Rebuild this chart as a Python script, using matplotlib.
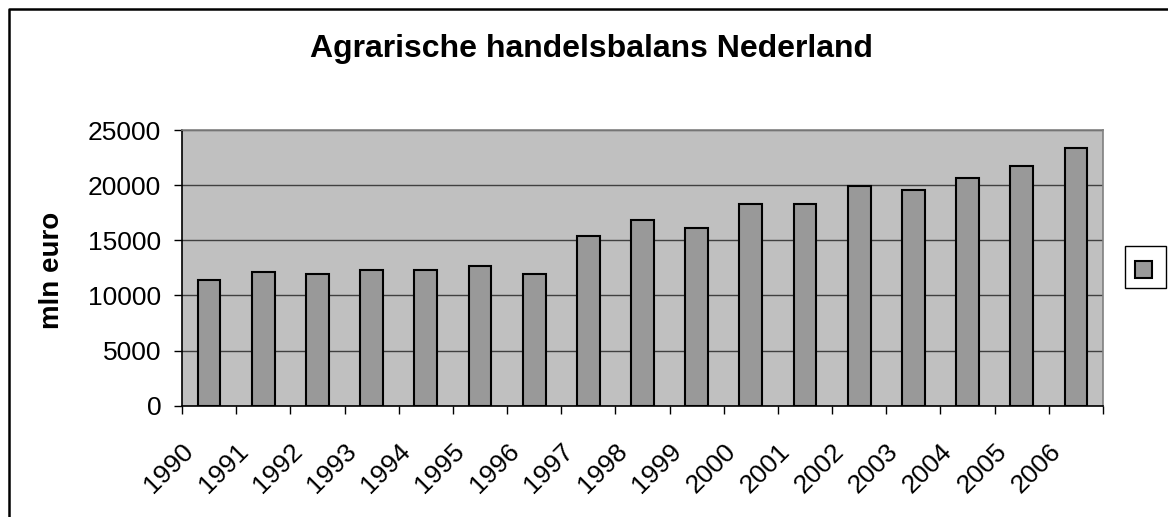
import numpy as np
import matplotlib
matplotlib.use('Agg')
import matplotlib.pyplot as plt
import matplotlib.transforms as mtransforms
from matplotlib.patches import Rectangle
from matplotlib.lines import Line2D

years = ['1990', '1991', '1992', '1993', '1994', '1995', '1996', '1997', '1998',
         '1999', '2000', '2001', '2002', '2003', '2004', '2005', '2006']
values = [11400, 12150, 11950, 12300, 12300, 12700, 11950, 15400, 16850,
          16150, 18300, 18300, 19950, 19600, 20650, 21750, 23400]
yticks = [0, 5000, 10000, 15000, 20000, 25000]

title = 'Agrarische handelsbalans Nederland'
ylabel = 'mln euro'

plt.rcParams['font.family'] = ['Liberation Sans', 'DejaVu Sans']

W, H = 1168, 517
fig = plt.figure(figsize=(W / 100, H / 100), dpi=100)

def fx(px):
    return px / W

def fy(py):
    return 1 - py / H

left, right, top, bottom = 182, 1103, 130, 405.7
ax = fig.add_axes([fx(left), fy(bottom), fx(right - left), fy(top) - fy(bottom)])
ax.set_facecolor('#c0c0c0')

x = np.arange(len(years))
ax.bar(x, values, width=0.42, color='#999999', edgecolor='black', linewidth=1.5, zorder=3)

ax.set_xlim(-0.5, len(years) - 0.5)
ax.set_ylim(0, 25000)
ax.set_yticks(yticks)
ax.set_yticklabels([str(v) for v in yticks], fontsize=19)
ax.yaxis.grid(True, color='#404040', linewidth=1.0, zorder=1)
ax.set_axisbelow(True)

# labels at category centres, tick marks on category boundaries
ax.set_xticks(x)
ax.set_xticklabels(years, fontsize=19, rotation=45, ha='right', va='center',
                   rotation_mode='anchor')
ax.set_xticks(np.arange(len(years) + 1) - 0.5, minor=True)
ax.tick_params(axis='x', which='major', length=0, pad=30)
ax.tick_params(axis='x', which='minor', length=6, width=1, color='black')
ax.tick_params(axis='y', length=5.5, width=1, color='black', pad=9.5)
offset = mtransforms.ScaledTranslation(-19 / 100, 0, fig.dpi_scale_trans)
for lab in ax.get_xticklabels():
    lab.set_transform(lab.get_transform() + offset)

for s in ['left', 'bottom']:
    ax.spines[s].set_color('black')
    ax.spines[s].set_linewidth(1.2)
for s in ['top', 'right']:
    ax.spines[s].set_color('#808080')
    ax.spines[s].set_linewidth(1.2)

fig.text(fx(591), fy(57), title, fontsize=23, fontweight='bold',
         ha='center', va='baseline')
fig.text(fx(52), fy(270), ylabel, fontsize=20, fontweight='bold',
         rotation=90, ha='center', va='center')

# legend box with empty label
fig.add_artist(Rectangle((fx(1125), fy(288)), fx(41), fy(246) - fy(288),
                         transform=fig.transFigure, facecolor='white',
                         edgecolor='black', linewidth=1.0))
fig.add_artist(Rectangle((fx(1135), fy(278)), fx(17), fy(261) - fy(278),
                         transform=fig.transFigure, facecolor='#999999',
                         edgecolor='black', linewidth=1.5))

# chart border (left and top visible)
fig.add_artist(Line2D([fx(9), fx(9), 1], [0, fy(9), fy(9)],
                      transform=fig.transFigure, color='black', linewidth=1.8))

fig.savefig('out.png', dpi=100)
